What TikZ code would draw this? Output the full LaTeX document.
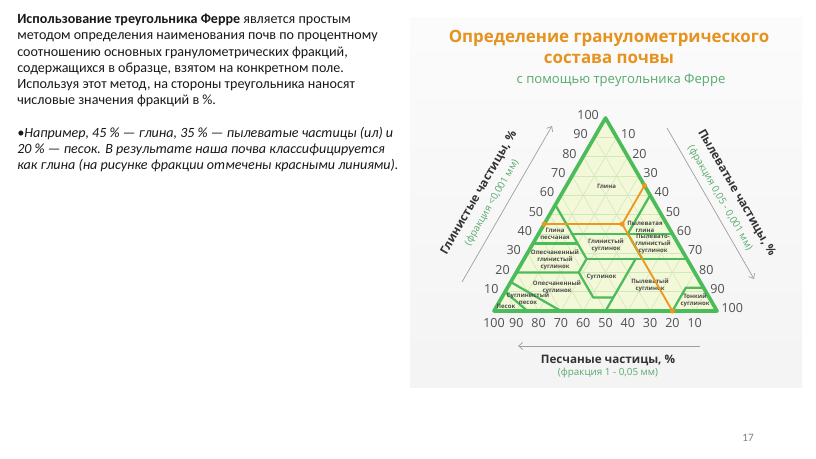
\documentclass[tikz,border=0pt]{standalone}
\usepackage{fontspec}
\setmainfont{Carlito}
\newfontfamily\osans{Open Sans}
\usepackage{xcolor}
\usetikzlibrary{arrows.meta, positioning, calc}
\definecolor{soilgreen}{RGB}{76, 187, 90}
\definecolor{gridgreen}{RGB}{208, 232, 186}
\definecolor{soilfill}{RGB}{243, 248, 216}
\definecolor{titleorange}{RGB}{229, 146, 31}
\definecolor{markorange}{RGB}{238, 150, 30}
\definecolor{subgreen}{RGB}{88, 170, 108}
\definecolor{numgray}{RGB}{80, 80, 80}
% point of the triangle from clay, silt and sand percentages
\newcommand{\ferre}[3]{({494+1.115*(#1)+2.23*(#2)},{311-1.93*(#1)})}

\begin{document}
\begin{tikzpicture}[x=0.025cm, y=-0.025cm,
  gridline/.style={gridgreen, line width=0.4pt},
  classline/.style={soilgreen, line width=1.6pt, line join=round, line cap=round},
  markline/.style={markorange, line width=1.3pt},
  orangedot/.style={circle, fill=markorange, inner sep=0pt, minimum size=3.6pt},
  axisarrow/.style={gray!75, line width=0.5pt, -{Straight Barb[length=3pt,width=5pt]}},
  axistitle/.style={font=\osans\bfseries\fontsize{8.3}{10}\selectfont, text=black!80, inner sep=0pt},
  axissub/.style={font=\osans\fontsize{7}{8.5}\selectfont, text=subgreen, inner sep=0pt},
  ticknum/.style={font=\osans\fontsize{8.9}{10}\selectfont, text=numgray, inner sep=0pt},
  classname/.style={font=\osans\bfseries\fontsize{4.3}{5}\selectfont, text=black!70, align=center, inner sep=0pt}]

  % Page
  \fill[white] (0,0) rectangle (816,459);
  \useasboundingbox (0,0) rectangle (816,459);
  \shade[top color=gray!3, bottom color=gray!9] (410,18) rectangle (802,387);

  % Text on the left
  \node[anchor=north west, inner sep=0pt, align=left, font=\fontsize{10}{11.5}\selectfont, text=black!90] (intro) at (17,14)
    {\textbf{Использование треугольника Ферре} является простым\\
     методом определения наименования почв по процентному\\
     соотношению основных гранулометрических фракций,\\
     содержащихся в образце, взятом на конкретном поле.\\
     Используя этот метод, на стороны треугольника наносят\\
     числовые значения фракций в \%.};
  \node[anchor=north west, inner sep=0pt, align=left, font=\itshape\fontsize{10}{11.7}\selectfont, text=black!90] (example) at (17,126.5)
    {•Например, 45 \% — глина, 35 \% — пылеватые частицы (ил) и\\
     20 \% — песок. В результате наша почва классифицируется\\
     как глина (на рисунке фракции отмечены красными линиями).};
  \node[font=\fontsize{8}{9}\selectfont, text=gray] (pagenum) at (748,438) {17};

  % Title
  \node[font=\osans\bfseries\fontsize{12}{14.8}\selectfont, text=titleorange, align=center] (title) at (609,47)
    {Определение гранулометрического\\состава почвы};
  \node[font=\osans\fontsize{9.3}{11}\selectfont, text=subgreen] (subtitle) at (621,80) {с помощью треугольника Ферре};

  % Triangle
  \coordinate (A) at (605.5,118);
  \coordinate (B) at (494,311);
  \coordinate (R) at (717,311);
  \fill[soilfill] (A) -- (B) -- (R) -- cycle;

  % Grid
  \foreach \v in {10,20,...,90} {
    \pgfmathtruncatemacro\w{100-\v}
    \draw[gridline] \ferre{\v}{\w}{0} -- \ferre{\v}{0}{\w};
    \draw[gridline] \ferre{\w}{\v}{0} -- \ferre{0}{\v}{\w};
    \draw[gridline] \ferre{\w}{0}{\v} -- \ferre{0}{\w}{\v};
  }

  % Classes
  \draw[classline] \ferre{55}{0}{45} -- \ferre{27}{28}{45};
  \draw[classline] \ferre{40}{15}{45} -- \ferre{40}{60}{0};
  \draw[classline] \ferre{40}{40}{20} -- \ferre{60}{40}{0};
  \draw[classline] \ferre{35}{0}{65} -- \ferre{35}{20}{45};
  \draw[classline] \ferre{27}{28}{45} -- \ferre{27}{73}{0};
  \draw[classline] \ferre{40}{40}{20} -- \ferre{27}{53}{20};
  \draw[classline] \ferre{20}{0}{80} -- \ferre{20}{28}{52} -- \ferre{27}{28}{45};
  \draw[classline] \ferre{20}{28}{52} -- \ferre{7}{41}{52} -- \ferre{7}{50}{43};
  \draw[classline] \ferre{0}{50}{50} -- \ferre{27}{50}{23};
  \draw[classline] \ferre{0}{80}{20} -- \ferre{12}{80}{8} -- \ferre{12}{88}{0};
  \draw[classline] \ferre{0}{30}{70} -- \ferre{15}{0}{85};
  \draw[classline] \ferre{0}{15}{85} -- \ferre{10}{0}{90};
  \draw[soilgreen, line width=2.6pt, line join=round] (A) -- (B) -- (R) -- cycle;

  % Class names
  \node[classname] (clay) at (606.5,186) {Глина};
  \node[classname] (siltyclay) at (645,226.5) {Пылеватая\\глина};
  \node[classname] (sandyclay) at (555,234) {Глина\\песчаная};
  \node[classname] (clayloam) at (606,245) {Глинистый\\суглинок};
  \node[classname] (siltyclayloam) at (653,244) {Пылевато-\\глинистый\\суглинок};
  \node[classname] (sandyclayloam) at (555,260) {Опесчаненный\\глинистый\\суглинок};
  \node[classname] (loam) at (601.5,277.5) {Суглинок};
  \node[classname] (sandyloam) at (557,287.5) {Опесчаненный\\суглинок};
  \node[classname] (siltloam) at (650,285.5) {Пылеватый\\суглинок};
  \node[classname] (loamysand) at (528,299) {Суглинистый\\песок};
  \node[classname] (sand) at (506,306) {Песок};
  \node[classname] (silt) at (695,300) {Тонкий\\суглинок};

  % Sample: 45 % clay, 35 % silt, 20 % sand
  \path \ferre{45}{0}{55} node[orangedot] (clay45) {};
  \path \ferre{45}{35}{20} node[orangedot] (sample) {};
  \path \ferre{65}{35}{0} node[orangedot] (silt35) {};
  \path \ferre{0}{80}{20} node[orangedot] (sand20) {};
  \draw[markline] (clay45.center) -- (sample.center);
  \draw[markline] (silt35.center) -- (sample.center) -- (sand20.center);

  % Scales
  \foreach \v in {10,20,...,100} {
    \node[ticknum, anchor=east, xshift=-4.5pt, yshift=2pt] (clay\v) at ($(B)!\v/100!(A)$) {\v};
    \node[ticknum, anchor=west, xshift=3pt, yshift=2pt] (silt\v) at ($(A)!\v/100!(R)$) {\v};
    \node[ticknum, anchor=north, yshift=-5pt] (sand\v) at ($(R)!\v/100!(B)$) {\v};
  }

  % Axes
  \coordinate (clayfrom) at (462,282);
  \coordinate (clayto) at (552,126);
  \draw[axisarrow] (clayfrom) -- (clayto);
  \node[axistitle, rotate=60] (claytitle) at (479,193) {Глинистые частицы, \%};
  \node[axissub, rotate=60] (claysub) at (492,203) {(фракция <0,001 мм)};

  \coordinate (siltfrom) at (667,128);
  \coordinate (siltto) at (754,279);
  \draw[axisarrow] (siltfrom) -- (siltto);
  \node[axistitle, rotate=-60] (silttitle) at (736.5,193) {Пылеватые частицы, \%};
  \node[axissub, rotate=-60] (siltsub) at (720,198) {(фракция 0,05 - 0,001 мм)};

  \coordinate (sandfrom) at (700,346);
  \coordinate (sandto) at (518,346);
  \draw[axisarrow] (sandfrom) -- (sandto);
  \node[axistitle] (sandtitle) at (608,360) {Песчаные частицы, \%};
  \node[axissub] (sandsub) at (608,373) {(фракция 1 - 0,05 мм)};
\end{tikzpicture}
\end{document}
